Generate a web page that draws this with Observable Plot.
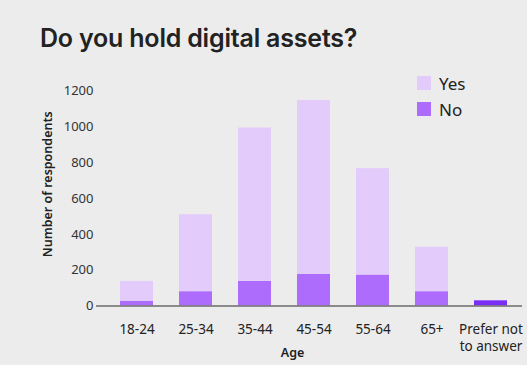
<!DOCTYPE html>
<html>
<head>
<meta charset="utf-8">
<script src="https://cdn.jsdelivr.net/npm/d3@7"></script>
<script src="https://cdn.jsdelivr.net/npm/@observablehq/plot@0.6"></script>
<style>
  html, body { margin: 0; padding: 0; background: #ececec; }
  #wrap { position: relative; width: 527px; height: 365px; overflow: hidden; background: #ececec; font-family: "Noto Sans", sans-serif; }
  #title { height: 56px; position: relative; }
  #title span { position: absolute; left: 40px; top: 26px; font-family: Inter, "Noto Sans", sans-serif; font-weight: 600; font-size: 25px; color: #222; letter-spacing: -0.2px; line-height: 1; }
  #legend { position: absolute; left: 417px; top: 70px; }
  .item { display: flex; align-items: center; height: 26px; font-size: 17px; color: #222; }
  .sw { width: 14px; height: 14px; margin-right: 8px; }
  svg { display: block; }
</style>
</head>
<body>
<div id="wrap">
  <div id="title"><span>Do you hold digital assets?</span></div>
  <div id="legend"></div>
  <div id="chart"></div>
</div>
<script>
// Data
const ages = ["18-24", "25-34", "35-44", "45-54", "55-64", "65+", "Prefer not to answer"];
const noValues = [27, 80, 138, 177, 173, 80, null];
const yesValues = [110, 430, 856, 971, 594, 248, null];
const preferNotValues = [null, null, null, null, null, null, 29];
const yTicks = [0, 200, 400, 600, 800, 1000, 1200];
const seriesNames = ["No", "Yes", "Undisclosed"];
const seriesColors = ["#ad6cfb", "#e3ccfc", "#7a2ef5"];
const legendSeries = ["Yes", "No"];

const rows = [];
ages.forEach((a, i) => {
  if (noValues[i] != null) rows.push({age: a, series: "No", value: noValues[i]});
  if (yesValues[i] != null) rows.push({age: a, series: "Yes", value: yesValues[i]});
  if (preferNotValues[i] != null) rows.push({age: a, series: "Undisclosed", value: preferNotValues[i]});
});

const chart = Plot.plot({
  width: 527,
  height: 309,
  marginLeft: 96,
  marginRight: 5,
  marginTop: 6,
  marginBottom: 59.5,
  style: {background: "transparent", fontFamily: "'Noto Sans', sans-serif"},
  x: {domain: ages, paddingInner: 0.44, paddingOuter: 0.294, align: 0.62, label: null},
  y: {domain: [0, 1360], label: null},
  color: {domain: seriesNames, range: seriesColors},
  marks: [
    Plot.barY(rows, {x: "age", y: "value", fill: "series", order: seriesNames}),
    Plot.ruleY([0], {stroke: "#6b6b6b", strokeWidth: 1.5}),
    Plot.axisY({ticks: yTicks, tickFormat: d3.format("d"), tickSize: 0, tickPadding: 3, fontSize: 13, fill: "#333", label: null}),
    Plot.axisX({tickSize: 0, tickPadding: 16, fontSize: 13.5, fill: "#222", lineHeight: 1.26, label: null,
      tickFormat: d => d === "Prefer not to answer" ? "Prefer not\nto answer" : d}),
    Plot.text(["Number of respondents"], {frameAnchor: "left", textAnchor: "middle", rotate: -90, dx: -49, fontSize: 12.5, fontWeight: 600, fill: "#222"}),
    Plot.text(["Age"], {frameAnchor: "bottom", dy: 51, dx: -17, fontSize: 12.5, fontWeight: 600, fill: "#222"})
  ]
});
document.getElementById("chart").appendChild(chart);

const legend = document.getElementById("legend");
legendSeries.forEach(s => {
  const item = document.createElement("div");
  item.className = "item";
  const sw = document.createElement("div");
  sw.className = "sw";
  sw.style.background = seriesColors[seriesNames.indexOf(s)];
  const label = document.createElement("span");
  label.textContent = s;
  item.appendChild(sw);
  item.appendChild(label);
  legend.appendChild(item);
});
</script>
</body>
</html>
